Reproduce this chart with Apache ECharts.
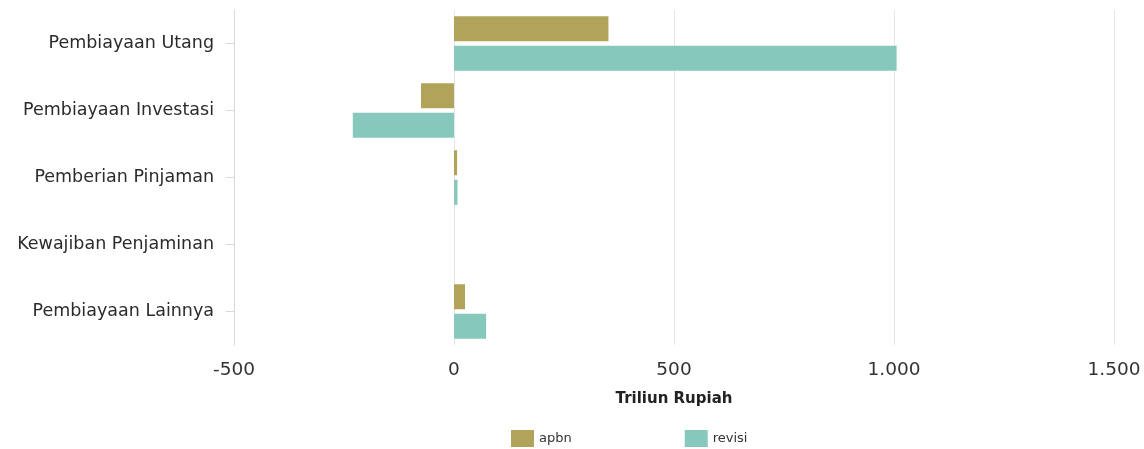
<!DOCTYPE html>
<html lang="id">
<head>
    <meta charset="UTF-8">
    <title>Pembiayaan</title>
    <script src="https://cdn.jsdelivr.net/npm/echarts@6/dist/echarts.min.js"></script>
    <style>
        body { margin: 0; padding: 0; background: #fff; }
        #chart { width: 1144px; height: 449px; }
    </style>
</head>
<body>
<div id="chart"></div>
<script>
    // data
    var categories = ['Pembiayaan Utang', 'Pembiayaan Investasi', 'Pemberian Pinjaman', 'Kewajiban Penjaminan', 'Pembiayaan Lainnya'];
    var apbn = [351, -75, 7, 0, 25];
    var revisi = [1006, -230, 8, 0, 73];
    var xTicks = [-500, 0, 500, 1000, 1500];

    var chart = echarts.init(document.getElementById('chart'));

    var font = "'DejaVu Sans', Verdana, sans-serif";

    var option = {
        animation: false,
        textStyle: { fontFamily: font },
        grid: { left: 234, right: 30, top: 10, bottom: 104 },
        legend: {
            data: ['apbn', 'revisi'],
            left: 506,
            top: 425,
            itemWidth: 23,
            itemHeight: 17,
            itemGap: 113,
            icon: 'rect',
            textStyle: { fontSize: 13, color: '#333', fontFamily: font }
        },
        xAxis: {
            type: 'value',
            min: xTicks[0],
            max: xTicks[xTicks.length - 1],
            interval: 500,
            name: 'Triliun Rupiah',
            nameLocation: 'middle',
            nameGap: 47,
            nameTextStyle: { fontWeight: 'bold', fontSize: 15, color: '#222', fontFamily: font },
            axisLine: { show: false },
            axisTick: { show: false },
            axisLabel: {
                fontSize: 18.5,
                color: '#333',
                margin: 16,
                fontFamily: font,
                formatter: function (v) {
                    return String(v).replace(/\B(?=(\d{3})+(?!\d))/g, '.');
                }
            },
            splitLine: { show: true, lineStyle: { color: '#e6e6e6' } }
        },
        yAxis: {
            type: 'category',
            data: categories,
            inverse: true,
            axisLine: { show: true, onZero: false, lineStyle: { color: '#d8d8d8' } },
            axisTick: { show: true, alignWithLabel: true, length: 8, lineStyle: { color: '#d8d8d8' } },
            axisLabel: { fontSize: 17.5, color: '#2b2b2b', margin: 20, fontFamily: font }
        },
        series: [
            {
                name: 'apbn',
                type: 'bar',
                data: apbn,
                barWidth: 25,
                barGap: '18%',
                itemStyle: { color: '#b1a35a' }
            },
            {
                name: 'revisi',
                type: 'bar',
                data: revisi,
                barWidth: 25,
                itemStyle: { color: '#86c8bb' }
            }
        ]
    };

    chart.setOption(option);
</script>
</body>
</html>
